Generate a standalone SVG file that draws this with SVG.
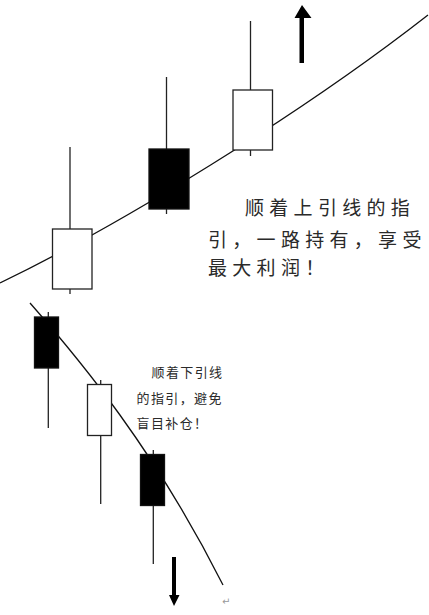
<svg xmlns="http://www.w3.org/2000/svg" width="429" height="615" viewBox="0 0 429 615">
<style>
.wick{stroke:#222;stroke-width:1.3;fill:none}
.up{fill:#fff;stroke:#222;stroke-width:1.3}
.down{fill:#000;stroke:#111;stroke-width:1.3}
.curve{fill:none;stroke:#111;stroke-width:1.3}
.arrow{fill:#000;stroke:none}
.t1{font-family:"Noto Sans CJK SC","Noto Sans CJK JP",sans-serif;font-size:19px;letter-spacing:5.3px;fill:#2a2a2a}
.t2{font-family:"Noto Sans CJK SC","Noto Sans CJK JP",sans-serif;font-size:13px;letter-spacing:1.4px;fill:#2a2a2a}
.mark{font-family:"DejaVu Sans",sans-serif;font-size:10px;fill:#999}
</style>
<rect width="429" height="615" fill="#fff"/>
<g id="connectors">
<path class="curve" d="M0,283 C120,225 300,115 428,15"/>
<path class="curve" d="M30,303 C80,360 155,450 223,585"/>
<path class="arrow" d="M299.5,63 L304,63 L304,18 L311.5,18 L302,5 L294.5,18 L299.5,18 Z"/>
<path class="arrow" d="M172,557 L176,557 L176,595 L179.5,595 L174,606 L169,595 L172,595 Z"/>
</g>
<g id="candle1">
<line class="wick" x1="70" y1="147" x2="70" y2="294"/>
<rect class="up" x="52.5" y="229" width="39.5" height="60"/>
</g>
<g id="candle2">
<line class="wick" x1="166.5" y1="77" x2="166.5" y2="214"/>
<rect class="down" x="149" y="149" width="40" height="60"/>
</g>
<g id="candle3">
<line class="wick" x1="250.5" y1="21" x2="250.5" y2="156"/>
<rect class="up" x="233" y="90" width="39.5" height="60"/>
</g>
<g id="text-top">
<text class="t1" x="245" y="215">顺着上引线的指</text>
<text class="t1" x="208" y="247">引，一路持有，享受</text>
<text class="t1" x="208" y="275">最大利润！</text>
</g>
<g id="candleA">
<line class="wick" x1="48.3" y1="312" x2="48.3" y2="428"/>
<rect class="down" x="34.5" y="317" width="24" height="51"/>
</g>
<g id="candleB">
<line class="wick" x1="100.7" y1="380" x2="100.7" y2="504"/>
<rect class="up" x="87.5" y="384.5" width="24" height="51"/>
</g>
<g id="candleC">
<line class="wick" x1="153.3" y1="450" x2="153.3" y2="564"/>
<rect class="down" x="140.5" y="454.5" width="24" height="51"/>
</g>
<g id="text-bottom">
<text class="t2" x="151.5" y="376.5">顺着下引线</text>
<text class="t2" x="136.5" y="403">的指引，避免</text>
<text class="t2" x="136.5" y="428">盲目补仓！</text>
</g>
<text class="mark" x="222" y="605">↵</text>
</svg>
